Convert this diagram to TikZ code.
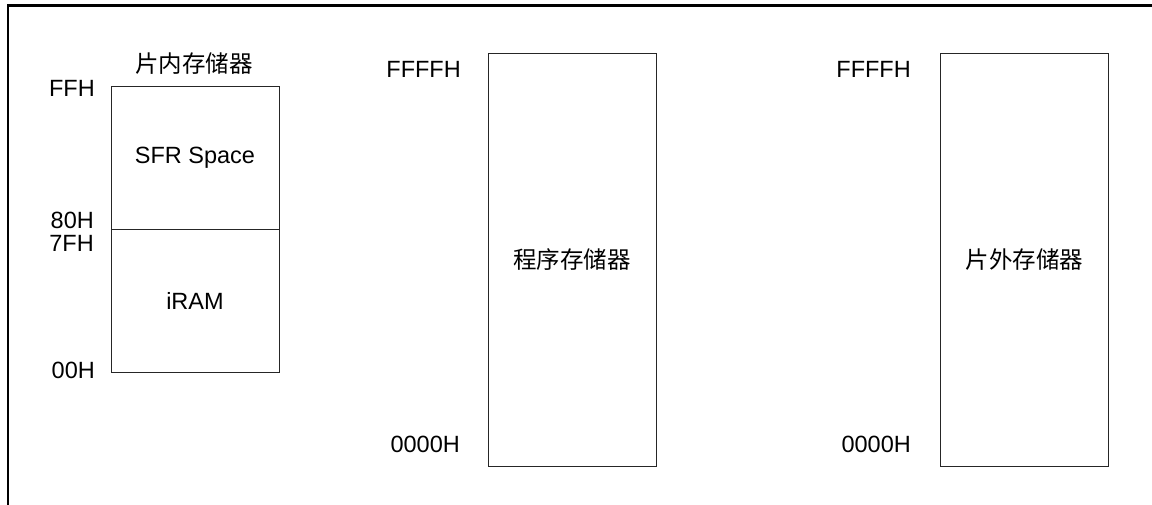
\documentclass[tikz,border=0pt]{standalone}
\usepackage{fontspec}
\setmainfont{Liberation Sans}
\newfontfamily\cjk{Noto Sans CJK SC}
\begin{document}
\begin{tikzpicture}[x=1pt,y=-1pt,
  mem/.style={draw=black!85,line width=1pt,inner sep=0pt,minimum width=168pt,font=\fontsize{23.5}{28}\selectfont},
  addr/.style={anchor=east,inner sep=0pt,font=\fontsize{23.5}{28}\selectfont},
  lbl/.style={inner sep=0pt,font=\fontsize{23.5}{28}\selectfont\cjk}]
\useasboundingbox (0,0) rectangle (1152,504);
\clip (0,0) rectangle (1152,504);
\fill[white] (0,0) rectangle (1152,504);
\coordinate (fa) at (8,530);
\coordinate (fb) at (8,5.5);
\coordinate (fc) at (1180,5.5);
\draw[line width=2.2pt] (fa) -- (fb) -- (fc);
% internal memory
\node[mem,minimum height=143pt] (sfr) at (195,157.5) {SFR Space};
\node[mem,minimum height=143pt] (iram) at (195,300.5) {iRAM};
\node[lbl] (t1) at (194,64) {片内存储器};
\node[addr] (a1) at (95,88.5) {FFH};
\node[addr] (a2) at (94,220.5) {80H};
\node[addr] (a3) at (94,243) {7FH};
\node[addr] (a4) at (95,370) {00H};
% program memory
\node[mem,minimum height=413pt] (prog) at (572,259.5) {};
\node[lbl] (t2) at (prog.center) {程序存储器};
\node[addr] (b1) at (461,69) {FFFFH};
\node[addr] (b2) at (460,444.5) {0000H};
% external memory
\node[mem,minimum height=413pt] (ext) at (1024.5,259.5) {};
\node[lbl] (t3) at (ext.center) {片外存储器};
\node[addr] (c1) at (911,69) {FFFFH};
\node[addr] (c2) at (911,444.5) {0000H};
\end{tikzpicture}
\end{document}
